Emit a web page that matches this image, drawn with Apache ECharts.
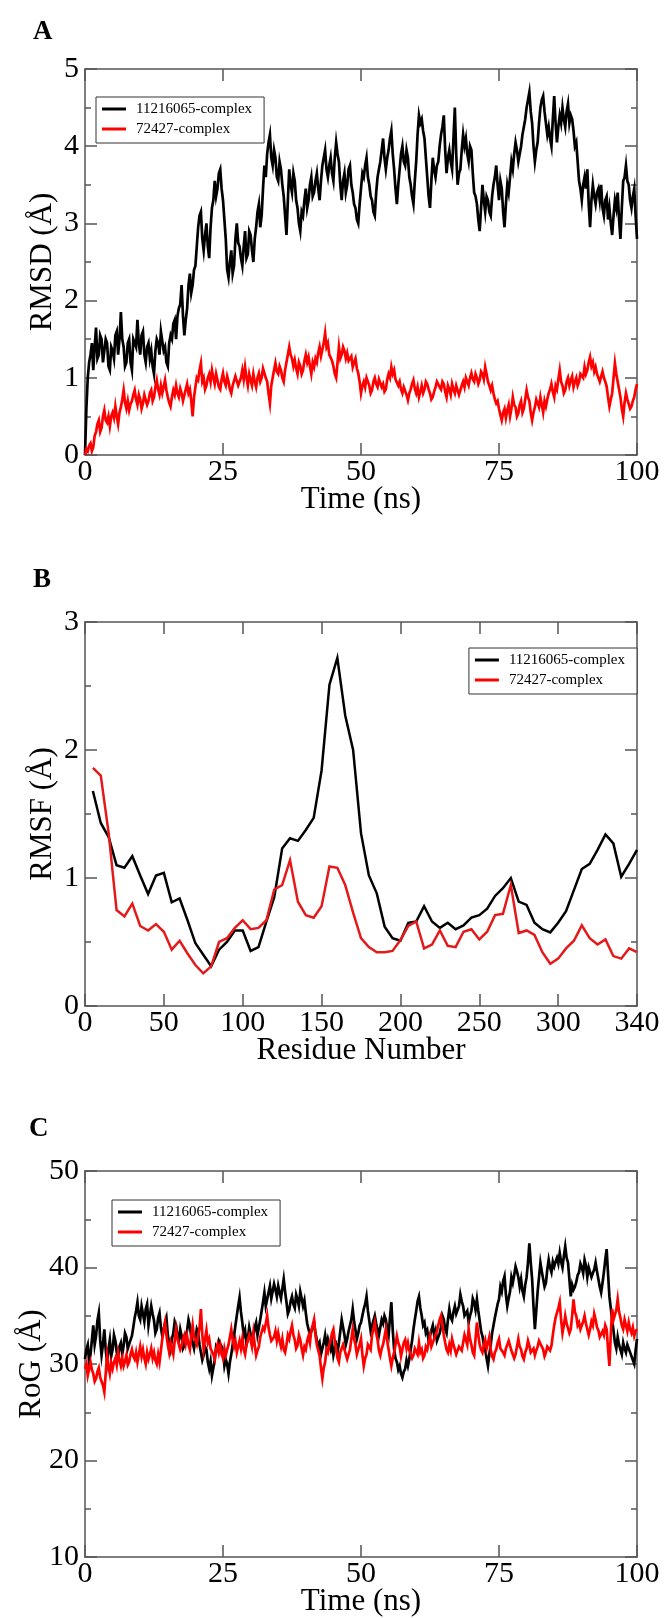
<!DOCTYPE html>
<html><head><meta charset="utf-8">
<script src="https://cdn.jsdelivr.net/npm/echarts@6/dist/echarts.min.js"></script>
<style>html,body{margin:0;padding:0;background:#fff}#c{width:664px;height:1618px}</style>
</head><body><div id="c"></div>
<script>
// ---------------- DATA ----------------
const seriesNames = ['11216065-complex', '72427-complex'];
const simLengthNs = 100;              // time series span 0..100 ns, values every 0.25 ns
const residueStep = 5;                // RMSF sampled every 5 residues (5..350 on the drawn axis)

// Panel A: RMSD (Å)
const rmsdBlack = [
 0,0.6,1.0,1.2,1.3,1.45,1.1,1.4,1.65,1.25,1.3,1.55,1.5,1.2,1.2,1.5,1.45,1.15,1.1,1.4,
 1.35,1.25,1.55,1.6,1.3,1.5,1.85,1.5,1.4,1.15,1.2,1.45,1.5,1.2,1.1,1.5,1.45,1.4,1.75,1.45,
 1.3,1.55,1.6,1.3,1.2,1.4,1.45,1.25,1.35,1.15,1.05,1.35,1.5,1.45,1.3,1.6,1.6,1.35,1.4,1.2,
 1.15,1.45,1.55,1.5,1.7,1.75,1.5,1.8,1.9,1.95,2.2,1.8,1.55,1.75,1.9,2.2,2.35,2.1,2.2,2.4,
 2.45,2.7,2.95,3.1,3.15,2.8,2.65,2.85,3.0,2.7,2.55,2.95,3.2,3.3,3.55,3.35,3.45,3.65,3.7,3.45,
 3.3,3.05,2.8,2.4,2.3,2.5,2.65,2.35,2.45,2.8,3.0,2.75,2.7,2.55,2.45,2.7,2.9,2.55,2.6,2.9,
 2.85,2.65,2.5,2.8,2.95,3.15,3.25,2.95,3.1,3.45,3.75,3.6,3.9,4.05,4.15,3.85,3.75,3.95,3.85,3.6,
 3.55,3.8,3.7,3.5,3.35,3.1,2.85,3.3,3.7,3.5,3.4,3.65,3.55,3.3,3.2,3.0,2.9,3.15,3.1,3.3,
 3.45,3.2,3.3,3.5,3.6,3.35,3.4,3.55,3.65,3.45,3.3,3.55,3.75,3.85,3.95,3.7,3.6,3.75,3.85,3.65,
 3.55,3.85,4.05,3.9,3.8,3.5,3.3,3.55,3.65,3.4,3.5,3.7,3.75,3.5,3.4,3.25,3.2,3.05,3.0,3.25,
 3.45,3.65,3.6,3.75,3.85,3.6,3.5,3.35,3.3,3.15,3.1,3.4,3.6,3.7,3.8,3.95,4.1,3.85,3.7,3.85,
 3.95,4.1,4.2,3.9,3.7,3.45,3.25,3.5,3.7,3.9,4.0,3.8,3.75,3.95,3.85,3.6,3.5,3.35,3.25,3.55,
 3.8,4.15,4.4,4.3,4.35,4.2,4.1,3.85,3.6,3.35,3.2,3.55,3.85,3.7,3.6,3.75,3.8,4.0,4.15,4.25,
 4.4,3.95,3.65,3.85,3.95,3.8,3.7,4.1,4.5,3.9,3.5,3.65,3.7,3.95,4.15,4.0,4.1,3.9,3.8,4.0,
 3.95,3.65,3.4,3.35,3.25,3.05,2.9,3.2,3.5,3.3,3.15,3.35,3.3,3.15,3.1,3.35,3.5,3.6,3.75,3.5,
 3.3,3.55,3.45,3.15,2.95,3.25,3.5,3.4,3.6,3.8,3.7,3.9,4.05,3.95,3.8,3.9,4.0,4.15,4.25,4.35,
 4.5,4.6,4.7,4.45,4.3,4.0,3.8,3.95,4.05,4.3,4.5,4.6,4.65,4.45,4.3,4.15,4.25,4.1,4.0,4.35,
 4.65,4.3,4.05,4.25,4.4,4.3,4.5,4.35,4.25,4.45,4.55,4.3,4.4,4.35,4.2,4.0,4.05,3.8,3.55,3.45,
 3.3,3.5,3.6,3.45,3.7,3.25,2.95,3.3,3.5,3.35,3.25,3.4,3.45,3.3,3.5,3.2,3.1,3.3,3.35,3.05,
 3.2,3.0,2.85,3.1,3.3,3.2,3.4,3.05,2.8,3.2,3.55,3.6,3.75,3.55,3.5,3.3,3.2,3.35,3.45,3.1,
 2.8];
const rmsdRed = [
 0.0,0.08,0.05,0.12,0.15,0.05,0.1,0.25,0.3,0.4,0.45,0.3,0.35,0.5,0.58,0.45,0.42,0.5,0.37,0.5,
 0.55,0.48,0.63,0.5,0.4,0.55,0.62,0.72,0.84,0.68,0.6,0.7,0.58,0.66,0.7,0.78,0.84,0.72,0.65,0.78,
 0.72,0.6,0.67,0.78,0.8,0.65,0.7,0.8,0.84,0.7,0.75,0.88,0.97,0.85,0.78,0.9,0.8,0.88,0.97,0.84,
 0.75,0.68,0.63,0.75,0.84,0.78,0.9,0.8,0.75,0.86,0.8,0.7,0.72,0.85,0.92,0.8,0.85,0.7,0.5,0.75,
 0.88,1.0,0.97,1.1,1.19,0.95,1.0,0.85,0.9,1.0,1.05,0.95,1.1,1.0,0.92,1.05,0.97,0.88,0.85,0.98,
 1.06,0.95,0.9,1.02,0.95,0.85,0.8,0.9,0.92,1.02,1.0,0.9,0.88,1.0,1.1,0.98,1.14,1.0,0.9,1.05,
 0.97,0.9,1.05,0.95,0.88,1.0,1.06,0.95,1.0,1.12,1.1,1.0,0.95,0.8,0.67,0.9,1.0,1.1,1.19,1.08,
 1.05,1.15,1.1,1.0,0.95,1.1,1.2,1.3,1.4,1.3,1.25,1.15,1.23,1.12,1.05,1.2,1.15,1.05,1.1,1.22,
 1.3,1.2,1.27,1.15,1.05,1.2,1.14,1.25,1.2,1.32,1.4,1.28,1.3,1.45,1.58,1.4,1.45,1.3,1.32,1.22,
 1.15,1.05,1.0,1.2,1.4,1.25,1.3,1.4,1.35,1.25,1.32,1.22,1.2,1.28,1.14,1.2,1.25,1.12,1.06,0.95,
 0.8,0.9,0.95,0.88,1.0,0.95,0.9,0.8,0.84,0.95,1.0,0.92,0.88,0.98,1.0,0.88,0.92,0.82,0.85,0.98,
 1.05,1.0,1.14,1.05,1.1,0.98,1.0,0.9,0.95,0.85,0.8,0.88,0.9,0.78,0.71,0.8,0.85,0.92,0.97,0.86,
 0.8,0.88,0.75,0.82,0.9,0.8,0.85,0.95,0.92,0.85,0.8,0.72,0.75,0.82,0.88,0.95,0.97,0.88,0.85,0.95,
 0.92,0.82,0.75,0.9,0.85,0.78,0.92,0.85,0.8,0.9,0.88,0.78,0.8,0.9,0.95,0.88,1.0,0.95,0.9,1.0,
 1.06,0.98,0.95,1.05,1.0,0.92,0.97,1.08,1.05,0.98,1.14,1.05,0.95,0.9,0.84,0.9,0.8,0.72,0.67,0.7,
 0.6,0.52,0.45,0.55,0.6,0.48,0.58,0.65,0.5,0.6,0.75,0.65,0.62,0.5,0.54,0.65,0.7,0.55,0.6,0.72,
 0.84,0.75,0.7,0.55,0.45,0.55,0.62,0.72,0.7,0.62,0.75,0.65,0.55,0.7,0.63,0.72,0.8,0.85,0.92,0.82,
 0.75,0.9,0.85,0.98,1.1,0.95,0.9,0.8,0.84,0.95,1.0,0.9,0.97,1.02,0.88,0.95,1.0,0.9,0.95,1.05,
 1.05,1.0,1.14,1.05,1.1,1.2,1.27,1.15,1.2,1.08,1.14,1.05,1.05,0.95,0.97,1.08,1.0,0.95,0.89,0.75,
 0.63,0.72,0.8,1.0,1.19,1.05,0.95,0.85,0.75,0.6,0.5,0.68,0.8,0.72,0.7,0.6,0.63,0.7,0.75,0.85,
 0.92];

// Panel B: RMSF (Å)
const rmsfBlack = [
 1.68,1.43,1.32,1.10,1.08,1.17,1.02,0.875,1.02,1.04,
 0.81,0.84,0.67,0.49,0.40,0.31,0.44,0.50,0.59,0.59,
 0.43,0.46,0.66,0.85,1.23,1.31,1.29,1.375,1.47,1.84,
 2.51,2.72,2.27,2.0,1.35,1.02,0.88,0.62,0.53,0.51,
 0.65,0.66,0.78,0.66,0.61,0.65,0.60,0.63,0.69,0.71,
 0.76,0.86,0.92,1.0,0.815,0.79,0.65,0.60,0.575,0.65,
 0.74,0.905,1.07,1.11,1.22,1.34,1.27,1.01,1.11,1.22];
const rmsfRed = [
 1.86,1.80,1.35,0.75,0.70,0.80,0.625,0.59,0.64,0.58,
 0.44,0.51,0.41,0.32,0.255,0.31,0.50,0.53,0.61,0.67,
 0.60,0.61,0.67,0.91,0.945,1.14,0.815,0.71,0.69,0.78,
 1.09,1.08,0.945,0.73,0.53,0.46,0.42,0.42,0.43,0.515,
 0.625,0.66,0.45,0.48,0.59,0.47,0.46,0.58,0.60,0.52,
 0.58,0.71,0.72,0.945,0.57,0.59,0.555,0.42,0.33,0.37,
 0.45,0.51,0.63,0.53,0.48,0.52,0.39,0.37,0.45,0.42];

// Panel C: Radius of gyration (Å)
const rogBlack = [
 30.5,31.5,32.0,30.2,31.0,32.5,34.0,32.0,32.9,34.5,35.3,32.5,30.9,32.0,33.6,31.5,30.2,31.5,32.5,30.8,
 31.5,33.0,32.4,31.2,30.8,31.8,32.2,31.0,31.9,33.2,32.8,31.6,31.5,32.5,32.9,33.8,34.8,35.5,36.4,35.0,
 34.6,36.0,35.2,34.4,35.7,36.2,34.0,35.0,36.0,35.2,34.5,33.2,33.6,34.8,35.3,33.8,32.9,33.5,34.3,34.8,
 33.0,32.2,31.5,32.6,33.2,34.4,34.0,32.8,32.5,33.6,32.9,31.6,31.9,32.8,33.5,34.6,34.0,32.8,32.2,31.6,
 32.6,33.6,33.2,32.0,31.9,30.4,30.9,31.8,31.5,30.2,29.5,30.3,28.8,29.6,30.4,31.8,31.5,32.4,32.6,31.8,
 31.2,29.8,30.5,30.0,29.0,30.2,31.0,32.0,32.9,34.0,35.0,36.0,36.9,35.4,34.3,33.0,33.5,32.0,32.6,33.8,
 33.6,32.4,32.8,33.8,34.3,33.0,33.2,34.6,35.5,36.4,37.4,36.0,36.2,37.4,38.1,36.8,37.0,38.3,37.7,37.0,
 38.1,37.4,36.8,37.8,38.8,37.5,36.4,35.2,35.6,36.5,37.0,36.2,35.8,37.2,36.7,36.0,37.5,36.8,36.0,36.6,
 35.3,34.2,34.0,33.0,32.9,33.8,34.3,33.2,33.0,31.8,32.2,31.0,31.2,32.2,33.0,31.9,32.6,32.0,31.5,32.2,
 30.9,31.6,32.0,31.2,32.2,33.4,34.6,33.8,33.0,32.0,32.6,33.4,34.0,34.6,35.7,34.4,33.5,32.6,33.2,34.0,
 34.3,35.0,35.7,36.2,37.0,35.5,34.5,33.4,33.6,34.5,35.0,34.2,34.0,33.0,33.2,34.6,34.2,35.0,34.6,33.6,
 33.0,34.8,36.4,33.5,31.5,30.6,30.2,29.4,29.8,29.0,28.6,29.2,29.5,30.4,29.8,30.5,31.5,32.4,33.6,34.6,
 35.5,36.5,37.0,35.8,35.0,34.0,34.3,33.2,33.5,32.4,32.9,33.5,34.0,33.0,33.5,32.4,32.6,33.2,33.8,35.0,
 34.6,33.6,33.2,34.6,35.7,34.8,34.5,35.4,36.0,35.2,35.0,36.0,37.2,36.5,36.0,35.0,34.8,35.5,34.3,35.0,
 35.5,36.8,36.4,35.6,36.7,35.5,34.5,33.4,32.9,32.0,31.5,30.6,29.8,31.0,32.0,33.2,34.0,34.8,35.5,36.2,
 36.7,38.0,37.5,38.6,39.1,37.2,36.0,36.8,37.5,39.0,38.4,39.2,40.1,39.6,39.0,38.0,38.8,37.6,37.0,38.2,
 39.0,40.5,42.5,40.5,38.8,36.0,33.6,35.5,37.5,39.0,40.5,39.6,39.5,38.0,38.4,39.8,40.8,40.0,39.5,40.6,
 40.1,40.6,41.0,40.4,41.5,40.6,40.0,41.2,42.2,41.0,40.5,38.8,37.0,38.2,37.7,38.0,38.5,39.2,39.5,40.4,
 40.0,39.4,40.8,40.2,39.0,40.0,39.8,39.0,38.9,39.8,40.5,39.6,38.8,38.0,37.4,38.4,39.5,40.8,41.9,39.4,
 37.0,35.8,34.6,33.4,32.2,31.6,32.8,32.0,31.5,31.0,32.2,31.6,31.2,32.0,31.9,31.2,31.0,30.4,30.0,31.4,
 32.6];
const rogRed = [
 29.5,30.0,28.8,29.5,30.2,29.4,29.0,28.2,28.5,29.2,29.6,28.6,28.8,27.8,27.1,29.0,30.9,29.8,29.0,30.1,
 29.5,30.2,30.6,29.9,31.2,30.4,29.8,30.6,29.8,30.3,30.9,29.9,30.2,31.0,31.5,30.8,30.5,31.2,30.2,31.0,
 31.8,30.8,31.5,30.6,30.0,31.2,30.5,31.0,31.6,30.6,31.2,30.4,30.0,31.0,30.2,31.4,32.6,33.5,34.3,33.0,
 32.0,31.2,32.2,31.6,31.0,32.4,33.6,32.6,32.5,31.5,31.9,32.6,33.0,32.1,32.9,32.0,31.5,32.8,34.0,32.8,
 33.0,32.0,32.2,33.8,35.7,33.0,31.5,32.6,33.5,32.2,32.6,31.6,31.8,31.0,30.5,31.5,32.0,31.2,31.9,31.0,
 30.6,31.6,30.9,31.5,32.0,32.8,33.6,32.5,31.8,32.4,31.2,31.8,32.4,31.6,32.6,31.5,31.0,32.0,31.9,33.0,
 32.5,31.8,33.2,32.0,30.9,31.4,31.8,32.8,32.6,33.8,33.5,34.2,35.0,33.8,33.0,32.4,32.2,32.8,33.4,32.4,
 33.2,32.4,31.8,32.6,31.5,31.2,32.0,33.0,32.6,33.4,34.0,33.0,32.5,31.6,31.9,33.0,32.5,31.6,30.9,31.8,
 31.5,32.4,32.9,32.2,33.5,34.0,34.6,33.0,32.0,31.4,30.9,29.6,28.5,29.6,30.2,31.5,31.2,32.0,32.5,33.2,
 33.6,32.4,31.5,30.6,30.2,31.2,31.0,32.0,31.9,31.0,30.5,31.0,31.5,32.6,33.6,32.6,32.0,31.0,31.2,32.0,
 32.6,31.0,29.8,30.6,31.0,32.0,32.2,31.5,33.0,33.6,34.3,33.2,32.5,31.4,30.9,31.6,32.0,32.8,33.6,32.4,
 31.5,30.6,29.8,30.6,31.2,32.0,32.9,32.2,31.8,30.8,31.5,32.2,32.5,31.6,32.2,31.4,31.5,30.6,30.9,31.6,
 31.8,31.0,32.2,31.2,31.5,30.6,30.9,31.8,31.5,32.2,32.9,31.8,32.0,32.6,33.0,33.4,34.0,34.6,35.0,34.0,
 33.0,32.2,31.5,31.2,32.0,31.4,32.6,32.0,31.8,31.0,31.2,31.8,32.0,31.4,32.2,33.0,32.8,32.0,33.6,32.6,
 32.0,31.2,30.9,32.6,34.3,33.0,32.0,31.5,31.2,32.0,32.5,31.6,32.2,32.8,31.5,30.8,30.5,31.2,31.5,32.2,
 32.6,31.6,31.8,31.2,30.9,31.6,31.5,32.4,32.2,31.4,31.2,30.6,31.0,31.8,32.6,31.8,31.5,30.8,30.5,31.2,
 31.6,32.4,31.9,31.2,31.0,31.6,30.9,31.4,31.8,32.4,32.6,31.8,31.5,30.8,31.2,31.8,32.0,31.4,31.9,33.0,
 34.0,34.8,35.3,35.8,36.4,34.6,33.2,34.0,35.0,34.2,34.0,33.2,33.6,35.0,36.7,35.4,35.0,34.0,34.3,33.6,
 33.5,34.4,35.0,34.2,34.0,33.0,33.6,34.4,34.0,35.2,34.6,33.8,33.5,32.8,32.6,33.4,33.0,34.0,33.6,31.6,
 29.8,33.0,35.7,34.6,34.5,35.6,36.7,35.4,34.8,34.0,33.6,34.6,34.0,33.4,34.3,33.6,33.2,33.8,32.9,33.4,
 33.6];

// tick labels (panel B's right-most tick is printed "340" in the original figure)
const residueTickLabels = {0:'0',50:'50',100:'100',150:'150',200:'200',250:'250',300:'300',350:'340'};

// ---------------- CHART ----------------
const FONT = '"Liberation Serif", "Times New Roman", serif';
const FRAME = '#555';
const BLACK = '#000000', RED = '#ff0000', RED_B = '#e41a1a';

const pairsT = arr => arr.map((v, i) => [i * simLengthNs / (arr.length - 1), v]);
const pairsR = arr => arr.map((v, i) => [(i + 1) * residueStep, v]);

const panels = [
  {top: 69, height: 386, xMin: 0, xMax: 100, xInt: 25, yMin: 0, yMax: 5, yInt: 1,
   xName: 'Time (ns)', yName: 'RMSD (Å)', yNameGap: 27, xFmt: v => String(v),
   legend: {left: 96, top: 97},
   data: [pairsT(rmsdBlack), pairsT(rmsdRed)], colors: [BLACK, RED], lw: 2.7},
  {top: 622, height: 384, xMin: 0, xMax: 350, xInt: 50, yMin: 0, yMax: 3, yInt: 1,
   xName: 'Residue Number', yName: 'RMSF (Å)', yNameGap: 27, xFmt: v => residueTickLabels[v] ?? String(v),
   legend: {right: 27, top: 648},
   data: [pairsR(rmsfBlack), pairsR(rmsfRed)], colors: [BLACK, RED_B], lw: 2.5},
  {top: 1171, height: 388, xMin: 0, xMax: 100, xInt: 25, yMin: 10, yMax: 50, yInt: 10,
   xName: 'Time (ns)', yName: 'RoG (Å)', yNameGap: 38, xFmt: v => String(v),
   legend: {left: 112, top: 1200},
   data: [pairsT(rogBlack), pairsT(rogRed)], colors: [BLACK, RED], lw: 2.7}
];

const tickStyle = {color: FRAME, width: 1.5};
const labelBase = {fontFamily: FONT, fontSize: 30, color: '#000', showMinLabel: true, showMaxLabel: true};
const nameStyle = {fontFamily: FONT, fontSize: 31, color: '#000'};

const grid = [], xAxis = [], yAxis = [], series = [], legend = [];
panels.forEach((p, i) => {
  grid.push({left: 85, top: p.top, width: 552, height: p.height, containLabel: false});
  const xCommon = {type: 'value', gridIndex: i, min: p.xMin, max: p.xMax, interval: p.xInt,
    splitLine: {show: false},
    axisLine: {show: true, onZero: false, lineStyle: tickStyle},
    axisTick: {show: true, inside: true, length: 12, lineStyle: tickStyle}};
  xAxis.push(Object.assign({}, xCommon, {position: 'bottom',
    axisLabel: Object.assign({}, labelBase, {margin: 2, formatter: p.xFmt}),
    name: p.xName, nameLocation: 'middle', nameGap: 29, nameMoveOverlap: false,
    nameTextStyle: nameStyle}));
  xAxis.push(Object.assign({}, xCommon, {position: 'top', axisLabel: {show: false}}));
  const yCommon = {type: 'value', gridIndex: i, min: p.yMin, max: p.yMax, interval: p.yInt,
    splitLine: {show: false},
    axisLine: {show: true, onZero: false, lineStyle: tickStyle},
    axisTick: {show: true, inside: true, length: 12, lineStyle: tickStyle},
    minorTick: {show: true, splitNumber: 2, length: 6, lineStyle: tickStyle}};
  yAxis.push(Object.assign({}, yCommon, {position: 'left',
    axisLabel: Object.assign({}, labelBase, {margin: 6}),
    name: p.yName, nameLocation: 'middle', nameGap: p.yNameGap, nameMoveOverlap: false,
    nameTextStyle: nameStyle}));
  yAxis.push(Object.assign({}, yCommon, {position: 'right', axisLabel: {show: false}}));
  seriesNames.forEach((name, k) => {
    series.push({type: 'line', name, xAxisIndex: 2 * i, yAxisIndex: 2 * i,
      data: p.data[k], showSymbol: false, symbol: 'none', smooth: false,
      lineStyle: {color: p.colors[k], width: p.lw, join: 'miter'},
      itemStyle: {color: p.colors[k]}, z: 2 + k});
  });
  legend.push(Object.assign({orient: 'vertical',
    data: seriesNames, icon: 'rect', itemWidth: 24, itemHeight: 3, itemGap: 0,
    padding: [2, 12, 4, 6], borderColor: '#333', borderWidth: 1, backgroundColor: '#fff',
    selectedMode: false,
    textStyle: {fontFamily: FONT, fontSize: 15, color: '#000', lineHeight: 20, padding: [0, 0, 0, 5]}}, p.legend));
});

const chart = echarts.init(document.getElementById('c'), null, {renderer: 'canvas'});
chart.setOption({
  animation: false,
  backgroundColor: '#fff',
  grid, xAxis, yAxis, series, legend,
  graphic: [
    {type: 'text', x: 33, y: 32, style: {text: 'A', font: 'bold 27px ' + FONT, fill: '#000', verticalAlign: 'middle'}},
    {type: 'text', x: 33, y: 580, style: {text: 'B', font: 'bold 27px ' + FONT, fill: '#000', verticalAlign: 'middle'}},
    {type: 'text', x: 29, y: 1129, style: {text: 'C', font: 'bold 27px ' + FONT, fill: '#000', verticalAlign: 'middle'}}
  ]
});
</script></body></html>
